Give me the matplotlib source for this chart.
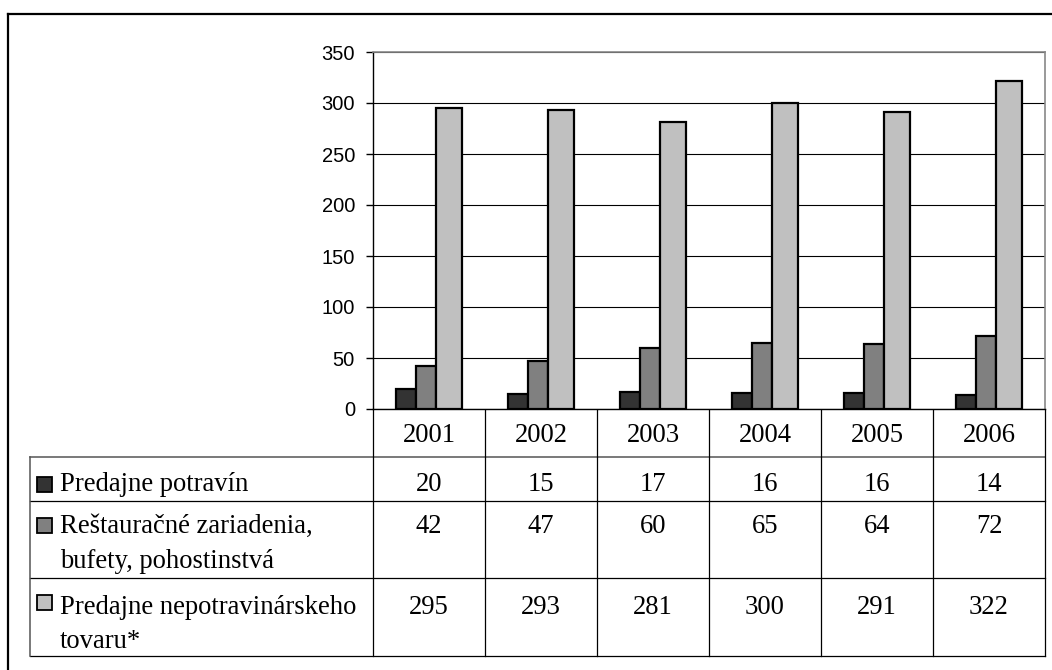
import matplotlib
matplotlib.use("Agg")
import matplotlib.pyplot as plt
from matplotlib.patches import Rectangle
import numpy as np

years = ["2001", "2002", "2003", "2004", "2005", "2006"]
series_names = [
    "Predajne potravín",
    "Reštauračné zariadenia,\nbufety, pohostinstvá",
    "Predajne nepotravinárskeho\ntovaru*",
]
food_shops = [20, 15, 17, 16, 16, 14]
restaurants = [42, 47, 60, 65, 64, 72]
non_food_shops = [295, 293, 281, 300, 291, 322]
y_ticks = [0, 50, 100, 150, 200, 250, 300, 350]

series_values = [food_shops, restaurants, non_food_shops]
series_colors = ["#333333", "#808080", "#C0C0C0"]

W, H = 1052, 670
DPI = 100
fig = plt.figure(figsize=(W / DPI, H / DPI), dpi=DPI)

# pixel-space overlay for the frame and the data table
ov = fig.add_axes([0, 0, 1, 1])
ov.set_xlim(0, W)
ov.set_ylim(H, 0)
ov.axis("off")

# chart area in pixels
PX_L, PX_R, PX_T, PX_B = 373, 1045, 52, 409
ax = fig.add_axes([PX_L / W, (H - PX_B) / H, (PX_R - PX_L) / W, (PX_B - PX_T) / H])

n = len(years)
x = np.arange(n)
col_px = (PX_R - PX_L) / n
# bar spans in pixels relative to column centre
bar_spans = [(-33, -13), (-13, 7), (7, 33)]
for vals, color, (a, b) in zip(series_values, series_colors, bar_spans):
    w = (b - a) / col_px
    off = (a + b) / 2 / col_px
    ax.bar(x + off, vals, width=w, color=color, edgecolor="black",
           linewidth=1.6, zorder=3)

ax.set_xlim(-0.5, n - 0.5)
ax.set_ylim(0, 350)
ax.set_yticks(y_ticks)
ax.set_yticklabels([str(t) for t in y_ticks], fontsize=14.5,
                   family="Liberation Sans")
ax.tick_params(axis="y", length=5, width=1, pad=8, direction="out")
ax.set_xticks([])
ax.yaxis.grid(True, color="black", linewidth=0.8, zorder=0)
ax.set_axisbelow(True)
for side in ["top", "right"]:
    ax.spines[side].set_color("#888888")
    ax.spines[side].set_linewidth(1.2)
ax.spines["left"].set_linewidth(1.0)
ax.spines["bottom"].set_linewidth(1.0)

# outer frame (top and left edges)
ov.plot([8, W], [14, 14], color="black", lw=1.6)
ov.plot([8, 8], [14, H], color="black", lw=1.6)

# data table below the chart
TBL_L = 30
row_lines = [457, 501, 578, 656]
col_lines = [PX_L + i * col_px for i in range(n + 1)]
for i, yv in enumerate(row_lines):
    ov.plot([TBL_L, PX_R], [yv, yv], color="#555555" if i == 0 else "black",
            lw=1.1 if i == 0 else 0.9)
ov.plot([TBL_L, TBL_L], [row_lines[0], row_lines[-1]], color="#555555", lw=1.1)
for cx in col_lines:
    ov.plot([cx, cx], [PX_B, row_lines[-1]], color="black", lw=0.9)

serif = "Liberation Serif"
fs = 19.2
for i, yr in enumerate(years):
    cx = PX_L + (i + 0.5) * col_px
    ov.text(cx, 442, yr, ha="center", va="baseline", fontsize=fs, family=serif)

first_baselines = [491, 533, 614]
line_gap = 34.5
marker_centres = [484, 525, 602]
for name, vals, color, base, mc in zip(series_names, series_values,
                                       series_colors, first_baselines,
                                       marker_centres):
    ov.add_patch(Rectangle((37, mc - 7.5), 15, 15, facecolor=color,
                           edgecolor="black", lw=1.3))
    for k, line in enumerate(name.split("\n")):
        ov.text(60, base + k * line_gap, line, ha="left", va="baseline",
                fontsize=fs, family=serif)
    for i, v in enumerate(vals):
        cx = PX_L + (i + 0.5) * col_px
        ov.text(cx, base, str(v), ha="center", va="baseline",
                fontsize=fs, family=serif)

fig.savefig("out.png", dpi=DPI)
